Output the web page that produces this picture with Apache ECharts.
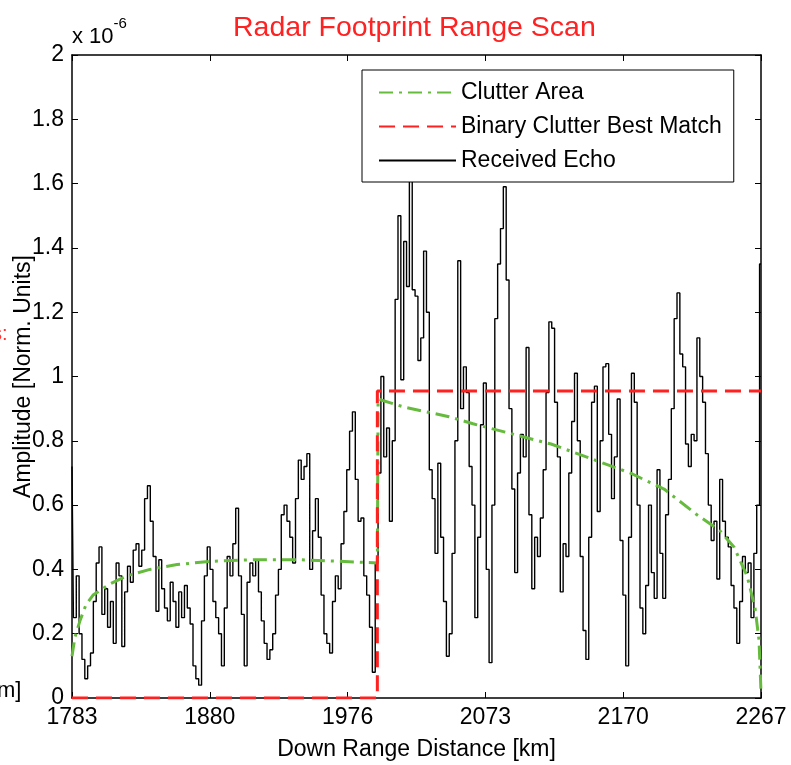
<!DOCTYPE html>
<html>
    <head>
        <meta charset="utf-8">
        <title>Radar Footprint Range Scan</title>
        <script src="https://cdn.jsdelivr.net/npm/echarts@6/dist/echarts.min.js"></script>
    </head>
    <body style="margin:0;background:#fff;">
        <div id="main" style="width: 791px;height: 765px;"></div>

        <script>
            // x axis ticks (km) and the labels printed under them
            var xTickValues = [1783, 1879.8, 1976.6, 2073.4, 2170.2, 2267];
            var xTickLabels = ['1783', '1880', '1976', '2073', '2170', '2267'];

            // received echo, one sample every 2 km from 1783 km (amplitude x 1e-6)
            var echoStartKm = 1783, echoStepKm = 2;
            var echoAmp = [
                0.72, 0.25, 0.38, 0.2, 0.12, 0.06, 0.1, 0.14, 0.3, 0.42,
                0.47, 0.26, 0.34, 0.22, 0.3, 0.17, 0.42, 0.38, 0.16, 0.33,
                0.41, 0.36, 0.46, 0.48, 0.41, 0.46, 0.62, 0.66, 0.55, 0.44,
                0.27, 0.43, 0.34, 0.28, 0.24, 0.36, 0.3, 0.22, 0.33, 0.25,
                0.35, 0.28, 0.23, 0.1, 0.06, 0.04, 0.24, 0.38, 0.47, 0.4,
                0.3, 0.25, 0.2, 0.1, 0.28, 0.44, 0.38, 0.48, 0.59, 0.38,
                0.26, 0.1, 0.36, 0.42, 0.38, 0.43, 0.33, 0.24, 0.17, 0.12,
                0.15, 0.2, 0.32, 0.4, 0.57, 0.6, 0.55, 0.5, 0.42, 0.62,
                0.74, 0.68, 0.72, 0.76, 0.4, 0.52, 0.62, 0.5, 0.32, 0.2,
                0.17, 0.14, 0.3, 0.38, 0.34, 0.48, 0.58, 0.71, 0.83, 0.89,
                0.68, 0.55, 0.56, 0.38, 0.32, 0.22, 0.08, 0.42, 0.7, 1.0,
                0.75, 0.84, 0.55, 0.8, 1.24, 1.5, 0.99, 1.42, 1.28, 1.63,
                1.27, 1.25, 1.05, 1.12, 1.39, 1.2, 0.71, 0.62, 0.45, 0.73,
                0.5, 0.3, 0.13, 0.2, 0.45, 0.8, 1.36, 0.9, 1.03, 0.95,
                0.72, 0.6, 0.25, 0.5, 0.85, 0.98, 0.4, 0.11, 0.6, 1.18,
                1.35, 1.46, 1.59, 1.3, 0.9, 0.65, 0.39, 0.7, 0.82, 0.75,
                1.09, 0.57, 0.34, 0.5, 0.44, 0.56, 0.71, 0.95, 1.17, 1.15,
                0.92, 0.75, 0.33, 0.48, 0.44, 0.7, 0.86, 1.01, 0.8, 0.44,
                0.21, 0.12, 0.5, 0.92, 0.97, 0.58, 0.8, 1.03, 1.04, 0.82,
                0.62, 0.75, 0.93, 0.49, 0.32, 0.1, 0.5, 1.01, 0.92, 0.6,
                0.28, 0.2, 0.35, 0.6, 0.39, 0.31, 0.71, 0.45, 0.31, 0.57,
                0.68, 0.9, 1.18, 1.26, 1.07, 1.03, 0.79, 0.72, 0.82, 0.8,
                1.12, 1.0, 0.92, 0.76, 0.6, 0.49, 0.55, 0.37, 0.68, 0.55,
                0.5, 0.47, 0.35, 0.28, 0.17, 0.3, 0.44, 0.39, 0.42, 0.25,
                0.45, 0.6, 1.35
            ];

            // clutter area curve
            var clutterKm  = [1783, 1785.1, 1788.6, 1792.8, 1797.8, 1809.7, 1821.6, 1837.8, 1856.8, 1880, 1908, 1943.2, 1971.3, 1997.5,
                              1998, 2016.2, 2047.8, 2064.7, 2097.7, 2119.5, 2150.4, 2175, 2198.9, 2222, 2238.2, 2248, 2257.2, 2262.8, 2265.6, 2267];
            var clutterAmp = [0.13, 0.19, 0.24, 0.29, 0.32, 0.355, 0.38, 0.4, 0.415, 0.425, 0.43, 0.43, 0.425, 0.42,
                              0.93, 0.905, 0.875, 0.853, 0.815, 0.79, 0.74, 0.7, 0.65, 0.57, 0.52, 0.47, 0.38, 0.28, 0.18, 0.02];

            // binary clutter best match (step)
            var matchKm  = [1783, 1997.5, 1997.5, 2267];
            var matchAmp = [0, 0, 0.955, 0.955];

            var FONT = 'Liberation Sans, Arial, sans-serif';

            var echoData = echoAmp.map(function (v, i) { return [echoStartKm + i * echoStepKm, v]; });
            var clutterData = clutterKm.map(function (k, i) { return [k, clutterAmp[i]]; });
            var matchData = matchKm.map(function (k, i) { return [k, matchAmp[i]]; });

            function xLabel(v) {
                for (var i = 0; i < xTickValues.length; i++) {
                    if (Math.abs(xTickValues[i] - v) < 0.01) return xTickLabels[i];
                }
                return '';
            }

            var axisLine = {show: true, onZero: false, lineStyle: {color: '#000', width: 1.5}};

            var option = {
                animation: false,
                backgroundColor: '#fff',
                title: {
                    text: 'Radar Footprint Range Scan',
                    left: 228,
                    top: 9,
                    textStyle: {color: '#f22', fontSize: 28.5, fontWeight: 'normal', fontFamily: FONT}
                },
                legend: {
                    data: ['Clutter Area', 'Binary Clutter Best Match', 'Received Echo'],
                    orient: 'vertical',
                    left: 362,
                    top: 70,
                    padding: [11, 12, 10, 16],
                    itemWidth: 77,
                    itemHeight: 22,
                    itemGap: 11,
                    itemStyle: {opacity: 0},
                    borderColor: '#000',
                    borderWidth: 1,
                    backgroundColor: '#fff',
                    textStyle: {color: '#000', fontSize: 23, fontFamily: FONT}
                },
                grid: {left: 72, right: 30, top: 55, bottom: 67, outerBoundsMode: 'none'},
                xAxis: [
                    {
                        type: 'value', min: 1783, max: 2267,
                        axisLine: axisLine,
                        axisTick: {inside: true, length: 6, customValues: xTickValues, lineStyle: {color: '#000'}},
                        axisLabel: {customValues: xTickValues, formatter: xLabel, color: '#000', fontSize: 23, fontFamily: FONT, margin: 8},
                        splitLine: {show: false},
                        name: 'Down Range Distance [km]',
                        nameLocation: 'middle',
                        nameGap: 40,
                        nameTextStyle: {color: '#000', fontSize: 23, fontFamily: FONT}
                    },
                    {
                        type: 'value', min: 1783, max: 2267, position: 'top',
                        axisLine: axisLine,
                        axisTick: {inside: true, length: 6, customValues: xTickValues, lineStyle: {color: '#000'}},
                        axisLabel: {show: false},
                        splitLine: {show: false}
                    }
                ],
                yAxis: [
                    {
                        type: 'value', min: 0, max: 2, interval: 0.2,
                        axisLine: axisLine,
                        axisTick: {inside: true, length: 6, lineStyle: {color: '#000'}},
                        axisLabel: {color: '#000', fontSize: 23, fontFamily: FONT, margin: 8},
                        splitLine: {show: false},
                        name: 'Amplitude [Norm. Units]',
                        nameLocation: 'middle',
                        nameGap: 37,
                        nameMoveOverlap: false,
                        nameTextStyle: {color: '#000', fontSize: 23, fontFamily: FONT}
                    },
                    {
                        type: 'value', min: 0, max: 2, interval: 0.2, position: 'right',
                        axisLine: axisLine,
                        axisTick: {inside: true, length: 6, lineStyle: {color: '#000'}},
                        axisLabel: {show: false},
                        splitLine: {show: false}
                    }
                ],
                graphic: [
                    {
                        type: 'text', left: 72, top: 16,
                        style: {
                            text: '{a|x 10}{b|-6}',
                            rich: {
                                a: {fontSize: 22, fontFamily: FONT, fill: '#000', padding: [10, 0, 0, 0]},
                                b: {fontSize: 15, fontFamily: FONT, fill: '#000', verticalAlign: 'top'}
                            }
                        }
                    },
                    {type: 'text', left: -3, top: 680, style: {text: 'm]', fontSize: 22, fontFamily: FONT, fill: '#000'}},
                    {type: 'text', left: -8, top: 324, style: {text: 's:', fontSize: 20, fontFamily: FONT, fill: '#f33'}}
                ],
                series: [
                    {
                        name: 'Received Echo',
                        type: 'line',
                        step: 'middle',
                        data: echoData,
                        symbol: 'none',
                        lineStyle: {color: '#000', width: 1.4},
                        itemStyle: {color: '#000'}
                    },
                    {
                        name: 'Clutter Area',
                        type: 'line',
                        data: clutterData,
                        symbol: 'none',
                        lineStyle: {color: '#66bb3f', width: 3, type: [14, 6, 3, 6]},
                        itemStyle: {color: '#66bb3f'}
                    },
                    {
                        name: 'Binary Clutter Best Match',
                        type: 'line',
                        data: matchData,
                        symbol: 'none',
                        lineStyle: {color: '#ff2020', width: 3, type: [16, 8]},
                        itemStyle: {color: '#ff2020'}
                    }
                ]
            };

            var chart = echarts.init(document.getElementById('main'));
            chart.setOption(option);
        </script>
    </body>
</html>
